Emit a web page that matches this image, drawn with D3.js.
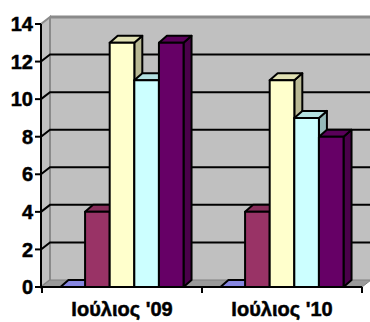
<!DOCTYPE html>
<html>
<head>
<meta charset="utf-8">
<script src="https://cdn.jsdelivr.net/npm/d3@7"></script>
<style>
  body { margin: 0; background: #fff; }
  svg { display: block; }
  text { font-family: "Liberation Sans", Arial, sans-serif; font-weight: bold; fill: #000; stroke: #000; stroke-width: 0.5px; }
</style>
</head>
<body>
<svg id="chart" width="370" height="322"></svg>
<script>
const categories = ["Ιούλιος '09", "Ιούλιος '10"];
const seriesNames = ["Σειρά 1", "Σειρά 2", "Σειρά 3", "Σειρά 4", "Σειρά 5"];
const seriesValues = [
    [0, 0],
    [4, 4],
    [13, 11],
    [11, 9],
    [13, 8]
];
const seriesColors = ["#9999FF", "#993366", "#FFFFCC", "#CCFFFF", "#660066"];
const yTicks = [0, 2, 4, 6, 8, 10, 12, 14];

const svg = d3.select("#chart");

// depth offsets for the fake 3d
const wdx = 9, wdy = -7;   // walls
const bdx = 8, bdy = -7;   // bars

const x0 = d3.scaleBand().domain(categories).range([42, 362]).padding(0);
const x1 = d3.scaleBand().domain(seriesNames).range([0, x0.bandwidth()])
    .paddingInner(0).paddingOuter(0.75);
const y = d3.scaleLinear().domain([0, 14]).range([287, 24]);

const left = x0.range()[0] - 1, right = x0.range()[1];

// back wall
svg.append("rect")
    .attr("x", left + wdx).attr("y", y(14) + wdy)
    .attr("width", 380).attr("height", y(0) - y(14))
    .attr("fill", "#C0C0C0");
svg.append("line")
    .attr("x1", left + wdx).attr("x2", 372)
    .attr("y1", y(14) + wdy).attr("y2", y(14) + wdy)
    .attr("stroke", "#8a8a8a").attr("stroke-width", 3);

// side wall
svg.append("path")
    .attr("d", `M${left},${y(0)}L${left},${y(14)}L${left + wdx},${y(14) + wdy}L${left + wdx},${y(0) + wdy}Z`)
    .attr("fill", "#C0C0C0")
    .attr("stroke", "#8a8a8a").attr("stroke-width", 2);

// floor
svg.append("path")
    .attr("d", `M${left},${y(0)}L${right},${y(0)}L${right + wdx},${y(0) + wdy}L${left + wdx},${y(0) + wdy}Z`)
    .attr("fill", "#9a9a9a")
    .attr("stroke", "#808080").attr("stroke-width", 1);

// gridlines
const grid = svg.append("g").attr("stroke", "#000").attr("stroke-width", 2).attr("fill", "none");
yTicks.filter(v => v > 0 && v < 14).forEach(v => {
    grid.append("path")
        .attr("d", `M${left},${y(v)}L${left + wdx},${y(v) + wdy}L372,${y(v) + wdy}`);
});

// bars
const bars = svg.append("g").attr("stroke", "#000").attr("stroke-width", 2).attr("stroke-linejoin", "round");
categories.forEach((c, ci) => {
    seriesNames.forEach((s, si) => {
        const v = seriesValues[si][ci];
        const col = d3.color(seriesColors[si]);
        const bx = x0(c) + x1(s), bw = x1.bandwidth();
        const yt = y(v), yb = y(0);
        // side
        bars.append("path")
            .attr("d", `M${bx + bw},${yb}L${bx + bw},${yt}L${bx + bw + bdx},${yt + bdy}L${bx + bw + bdx},${yb + bdy}Z`)
            .attr("fill", col.darker(0.9));
        // top
        bars.append("path")
            .attr("d", `M${bx},${yt}L${bx + bdx},${yt + bdy}L${bx + bw + bdx},${yt + bdy}L${bx + bw},${yt}Z`)
            .attr("fill", col.darker(0.35));
        // front
        if (v > 0) {
            bars.append("rect")
                .attr("x", bx).attr("y", yt)
                .attr("width", bw).attr("height", yb - yt)
                .attr("fill", col);
        }
    });
});

// axes
const axes = svg.append("g").attr("stroke", "#000").attr("stroke-width", 2);
axes.append("line").attr("x1", left).attr("x2", left).attr("y1", y(14)).attr("y2", y(0) + 1);
axes.append("line").attr("x1", left).attr("x2", right).attr("y1", y(0)).attr("y2", y(0));
yTicks.forEach(v => {
    axes.append("line").attr("x1", left - 6).attr("x2", left).attr("y1", y(v)).attr("y2", y(v));
});
[x0.range()[0], x0.range()[0] + x0.step(), x0.range()[1]].forEach(xx => {
    axes.append("line").attr("x1", xx).attr("x2", xx).attr("y1", y(0)).attr("y2", y(0) + 6);
});

svg.append("g").selectAll("text")
    .data(yTicks)
    .enter().append("text")
    .attr("x", left - 8)
    .attr("y", d => y(d))
    .attr("dy", "0.36em")
    .attr("text-anchor", "end")
    .style("font-size", "20px")
    .text(d => d);

svg.append("g").selectAll("text")
    .data(categories)
    .enter().append("text")
    .attr("x", d => x0(d) + x0.bandwidth() / 2)
    .attr("y", 316)
    .attr("text-anchor", "middle")
    .style("font-size", "20px")
    .text(d => d);
</script>
</body>
</html>
